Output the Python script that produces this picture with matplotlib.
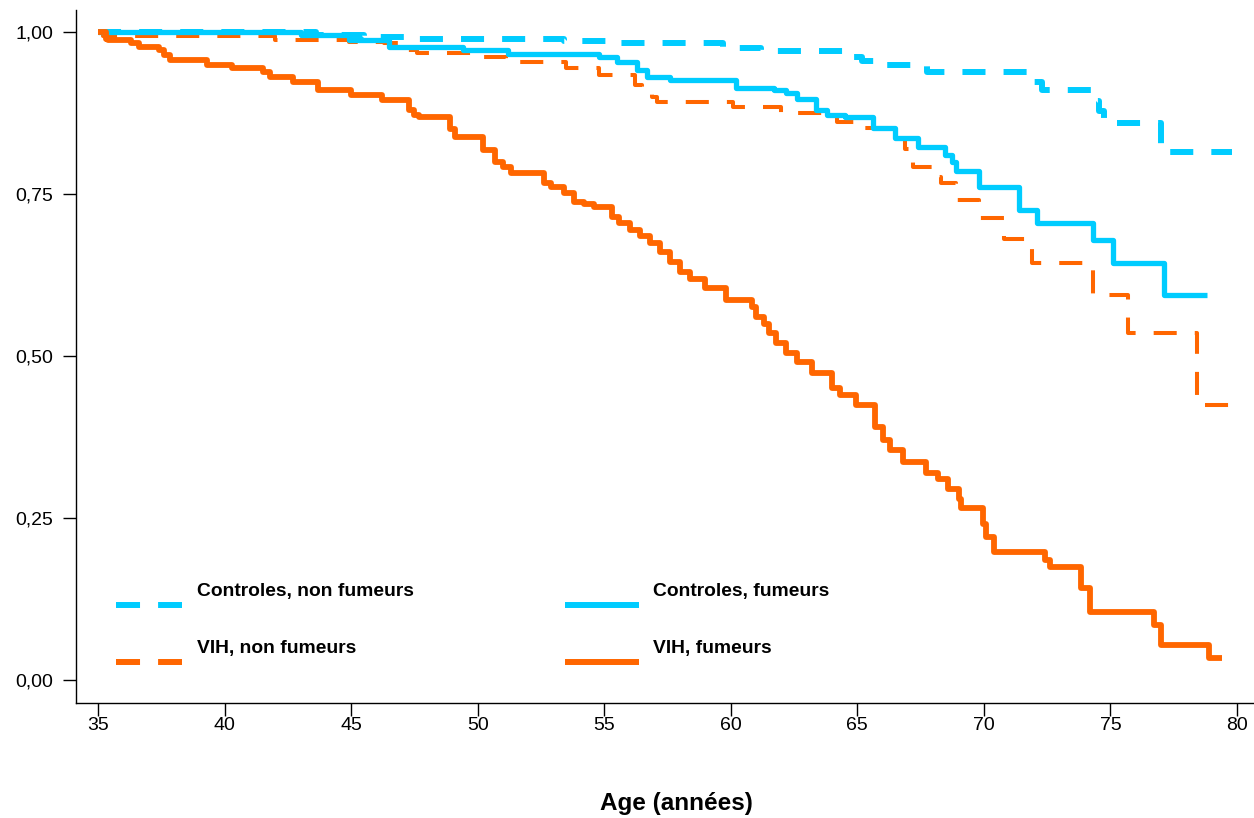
import numpy as np
import matplotlib
matplotlib.use('Agg')
import matplotlib.pyplot as plt
from matplotlib.lines import Line2D
from matplotlib.legend_handler import HandlerLine2D

plt.rcParams['font.family'] = ['Liberation Sans', 'DejaVu Sans']

# courbes de survie (age de l'evenement, survie apres l'evenement)
ctrl_nf_t = [43.6, 45.5, 47.3, 53.4, 55.1, 59.7, 61.2, 64.8, 65.2, 65.7, 67.75,
             71.7, 72.3, 74.3, 74.55, 74.75, 77.0]
ctrl_nf_s = [0.995, 0.992, 0.989, 0.986, 0.983, 0.975, 0.971, 0.962, 0.955, 0.949, 0.938,
             0.923, 0.91, 0.893, 0.878, 0.86, 0.815]
ctrl_nf_end = 79.8

ctrl_f_t = [43.0, 44.9, 46.5, 49.4, 51.2, 54.8, 55.5, 56.3, 56.7, 57.6, 60.2, 61.7,
            62.2, 62.6, 63.35, 63.8, 64.5, 65.6, 66.5, 67.4, 68.45, 68.75, 68.9, 69.8,
            71.4, 72.1, 74.3, 75.1, 77.1]
ctrl_f_s = [0.995, 0.988, 0.977, 0.972, 0.966, 0.961, 0.954, 0.941, 0.93, 0.926, 0.913, 0.91,
            0.906, 0.897, 0.88, 0.872, 0.869, 0.852, 0.837, 0.823, 0.81, 0.80, 0.786, 0.761,
            0.725, 0.705, 0.679, 0.643, 0.594]
ctrl_f_end = 78.8

vih_nf_t = [35.2, 42.0, 44.9, 46.3, 47.0, 47.6, 49.8, 51.1, 53.5, 54.8, 56.2, 56.5, 56.9,
            57.1, 60.1, 62.0, 63.6, 64.2, 65.2, 66.3, 66.9, 67.2, 68.1, 68.3, 68.9, 69.8,
            70.8, 71.9, 74.3, 75.7, 78.4]
vih_nf_s = [0.994, 0.988, 0.985, 0.983, 0.972, 0.968, 0.961, 0.954, 0.944, 0.934, 0.918, 0.91, 0.90,
            0.892, 0.884, 0.875, 0.869, 0.861, 0.852, 0.835, 0.82, 0.792, 0.776, 0.767, 0.741, 0.713,
            0.68, 0.643, 0.594, 0.535, 0.425]
vih_nf_end = 79.7

vih_f_t = [35.3, 35.4, 36.3, 36.6, 37.4, 37.6, 37.85, 39.3, 40.3, 41.5, 41.8, 42.7, 43.7,
           45.0, 46.2, 47.3, 47.5, 47.7, 48.9, 49.1, 50.2, 50.7, 51.0, 51.3, 52.6, 52.9,
           53.4, 53.8, 54.2, 54.6, 55.3, 55.6, 56.0, 56.4, 56.8, 57.2, 57.6, 58.0, 58.4,
           59.0, 59.8, 60.84, 61.0, 61.3, 61.5, 61.8, 62.2, 62.6, 63.2, 64.0, 64.3, 64.95,
           65.7, 66.0, 66.3, 66.8, 67.7, 68.2, 68.6, 69.0, 69.1, 69.97, 70.1, 70.4, 72.4,
           72.6, 73.85, 74.2, 76.7, 77.0, 78.9]
vih_f_s = [0.99, 0.988, 0.983, 0.977, 0.972, 0.964, 0.957, 0.949, 0.944, 0.938, 0.93, 0.923, 0.91,
           0.903, 0.895, 0.88, 0.872, 0.869, 0.85, 0.838, 0.818, 0.80, 0.792, 0.782, 0.767, 0.761,
           0.752, 0.738, 0.735, 0.73, 0.715, 0.705, 0.695, 0.685, 0.675, 0.66, 0.645, 0.63, 0.619,
           0.605, 0.586, 0.575, 0.56, 0.55, 0.535, 0.52, 0.505, 0.49, 0.474, 0.45, 0.44, 0.424,
           0.39, 0.37, 0.355, 0.336, 0.32, 0.31, 0.295, 0.28, 0.265, 0.24, 0.22, 0.198, 0.185,
           0.175, 0.142, 0.105, 0.085, 0.054, 0.034]
vih_f_end = 79.4

labels_col1 = ['Controles, non fumeurs', 'VIH, non fumeurs']
labels_col2 = ['Controles, fumeurs', 'VIH, fumeurs']
x_ticks = [35, 40, 45, 50, 55, 60, 65, 70, 75, 80]
y_ticks = [0.0, 0.25, 0.5, 0.75, 1.0]
y_tick_labels = ['0,00', '0,25', '0,50', '0,75', '1,00']

cyan = '#00CCFF'
orange = '#FF6600'


def km(t, s, end):
    # courbe en escalier: depart a 35 ans, survie 1
    x = [35.0] + list(t) + [end]
    y = [1.0] + list(s) + [s[-1]]
    return x, y


class LowLine(HandlerLine2D):
    # trait de legende un peu sous le texte, comme dans l'original
    def create_artists(self, legend, orig_handle, xdescent, ydescent, width, height, fontsize, trans):
        arts = super().create_artists(legend, orig_handle, xdescent, ydescent, width, height, fontsize, trans)
        for a in arts:
            a.set_ydata(np.asarray(a.get_ydata(), dtype=float) - 11.3)
        return arts


fig = plt.figure(figsize=(12.54, 8.18), dpi=100)
ax = fig.add_axes([76 / 1254, 115 / 818, 1178 / 1254, 693 / 818])

dash_on, dash_off = 16.6, 13.0

lw = 2.9
x, y = km(vih_nf_t, vih_nf_s, vih_nf_end)
ax.plot(x, y, drawstyle='steps-post', color=orange, lw=lw, dashes=(dash_on / lw, dash_off / lw),
        solid_capstyle='butt', dash_capstyle='butt', zorder=3)
lw = 4.3
x, y = km(ctrl_nf_t, ctrl_nf_s, ctrl_nf_end)
ax.plot(x, y, drawstyle='steps-post', color=cyan, lw=lw, dashes=(dash_on / lw, dash_off / lw),
        dash_capstyle='butt', zorder=4)
x, y = km(ctrl_f_t, ctrl_f_s, ctrl_f_end)
ax.plot(x, y, drawstyle='steps-post', color=cyan, lw=3.8, solid_capstyle='butt', zorder=5)
x, y = km(vih_f_t, vih_f_s, vih_f_end)
ax.plot(x, y, drawstyle='steps-post', color=orange, lw=4.2, solid_capstyle='butt', zorder=6)

hlw = 4.3
h_dash = [
    Line2D([], [], color=cyan, lw=hlw, dashes=(17.3 / hlw, 13.0 / hlw), dash_capstyle='butt'),
    Line2D([], [], color=orange, lw=hlw, dashes=(17.3 / hlw, 13.0 / hlw), dash_capstyle='butt'),
]
h_solid = [
    Line2D([], [], color=cyan, lw=hlw, solid_capstyle='butt'),
    Line2D([], [], color=orange, lw=hlw, solid_capstyle='butt'),
]
leg_kw = dict(loc='upper left', frameon=False, borderpad=0, borderaxespad=0,
              prop={'weight': 'bold', 'size': 13.9}, labelspacing=2.05,
              handler_map={Line2D: LowLine()})
leg1 = ax.legend(h_dash, labels_col1, bbox_to_anchor=(0.034, 0.174),
                 handlelength=3.42, handletextpad=0.78, **leg_kw)
ax.add_artist(leg1)
ax.legend(h_solid, labels_col2, bbox_to_anchor=(0.415, 0.174),
          handlelength=3.83, handletextpad=0.73, **leg_kw)

ax.set_xlim(34.13, 80.67)
ax.set_ylim(-0.0355, 1.034)
ax.set_xticks(x_ticks)
ax.set_yticks(y_ticks)
ax.set_yticklabels(y_tick_labels)
ax.tick_params(direction='out', length=9.4, width=1.0, labelsize=14, color='black')
ax.tick_params(axis='y', pad=7)
ax.tick_params(axis='x', pad=1)

for side in ['top', 'right']:
    ax.spines[side].set_visible(False)
for side in ['left', 'bottom']:
    ax.spines[side].set_linewidth(1.0)

ax.set_xlabel('Age (années)', fontsize=17.5, fontweight='bold')
ax.xaxis.set_label_coords(0.51, -0.129)

fig.savefig('out.png', dpi=100)
